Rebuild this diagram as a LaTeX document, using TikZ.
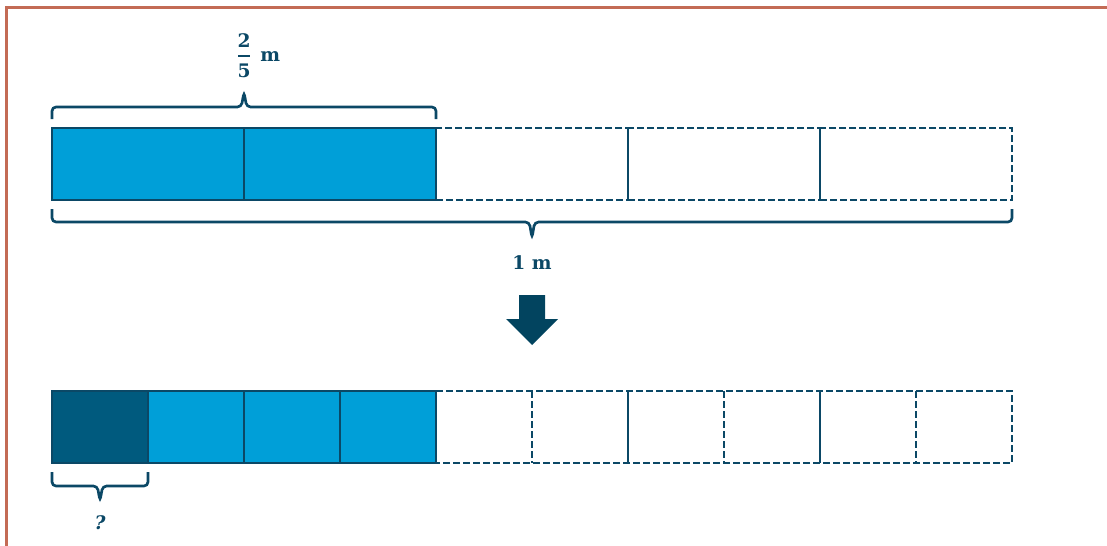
\documentclass[tikz,border=0pt]{standalone}
\usepackage{fontspec}
\setmainfont{DejaVu Serif}
\usetikzlibrary{positioning}
\definecolor{barblue}{HTML}{009FD8}
\definecolor{bardark}{HTML}{005A7E}
\definecolor{barline}{HTML}{0B4866}
\definecolor{arrowblue}{HTML}{02445F}
\definecolor{framered}{HTML}{C36B55}
\tikzset{
  cell/.style={draw=barline, line width=2pt, minimum height=54pt, inner sep=0pt, outer sep=0pt},
  fifth/.style={cell, minimum width=144pt},
  tenth/.style={cell, minimum width=72pt},
  blank/.style={dash pattern=on 5.25pt off 2.25pt},
  opencell/.style={draw=none},
  solidline/.style={draw=barline, line width=2pt},
  dashline/.style={solidline, blank},
  bracepath/.style={draw=barline, line width=2pt, rounded corners=3pt},
  lbl/.style={text=barline, font=\bfseries\fontsize{14}{17}\selectfont, inner sep=0pt}
}

\begin{document}
\begin{tikzpicture}[x=0.75pt, y=0.75pt, node distance=0pt]
        \useasboundingbox (0,0) rectangle (1107,-546);
        \draw[framered, line width=2.25pt] (6,-546) -- (6,-7.5) -- (1107,-7.5);

        % whole metre in fifths
        \node[fifth, fill=barblue] (t_1) at (148,-164) {};
        \node[fifth, fill=barblue] (t_2) [right = of t_1] {};
        \node[fifth, blank] (t_3) [right = of t_2] {};
        \node[fifth, blank] (t_4) [right = of t_3] {};
        \node[fifth, blank] (t_5) [right = of t_4] {};
        \draw[solidline] (t_3.north east) -- (t_3.south east)
        (t_4.north east) -- (t_4.south east);

        % brace over 2/5
        \coordinate (parttip) at ([yshift=27pt]t_1.north east);
        \draw[bracepath] ([yshift=6.75pt]t_1.north west) |- ([xshift=-2pt,yshift=15.75pt]t_1.north east)
        -- (parttip) -- ([xshift=2pt,yshift=15.75pt]t_1.north east) -| ([yshift=6.75pt]t_2.north east);
        \node[lbl] (den) [above = 10.5pt of parttip] {5};
        \coordinate (barmid) at ([yshift=5.5pt]den.north);
        \draw[barline, line width=1.5pt] ([xshift=-4.5pt]barmid) -- ([xshift=4.5pt]barmid);
        \node[lbl] (num) [above = 6pt of barmid] {2};
        \node[lbl] (unit) [right = 12pt of barmid] {m};

        % brace under 1 m
        \coordinate (wholetip) at ([yshift=-28.5pt]t_3.south);
        \draw[bracepath] ([yshift=-6.75pt]t_1.south west) |- ([xshift=-2pt,yshift=-16.5pt]t_3.south)
        -- (wholetip) -- ([xshift=2pt,yshift=-16.5pt]t_3.south) -| ([yshift=-6.75pt]t_5.south east);
        \node[lbl] (whole) [below = 13pt of wholetip] {1 m};

        % down arrow
        \fill[arrowblue] (519,-295) -- (545,-295) -- (545,-319) -- (558,-319) -- (532,-345)
        -- (506,-319) -- (519,-319) -- cycle;

        % whole metre in tenths
        \node[tenth, fill=bardark] (b_1) at (100,-427) {};
        \node[tenth, fill=barblue] (b_2) [right = of b_1] {};
        \node[tenth, fill=barblue] (b_3) [right = of b_2] {};
        \node[tenth, fill=barblue] (b_4) [right = of b_3] {};
        \node[tenth, opencell] (b_5) [right = of b_4] {};
        \node[tenth, opencell] (b_6) [right = of b_5] {};
        \node[tenth, opencell] (b_7) [right = of b_6] {};
        \node[tenth, opencell] (b_8) [right = of b_7] {};
        \node[tenth, opencell] (b_9) [right = of b_8] {};
        \node[tenth, opencell] (b_10) [right = of b_9] {};
        \draw[dashline] (b_4.north east) -- (b_10.north east) -- (b_10.south east) -- (b_4.south east);
        \draw[dashline] (b_5.north east) -- (b_5.south east)
        (b_7.north east) -- (b_7.south east)
        (b_9.north east) -- (b_9.south east);
        \draw[solidline] (b_6.north east) -- (b_6.south east)
        (b_8.north east) -- (b_8.south east);

        % brace under the unknown piece
        \coordinate (piecetip) at ([yshift=-28.5pt]b_1.south);
        \draw[bracepath] ([yshift=-6.75pt]b_1.south west) |- ([xshift=-2pt,yshift=-17.25pt]b_1.south)
        -- (piecetip) -- ([xshift=2pt,yshift=-17.25pt]b_1.south) -| ([yshift=-6.75pt]b_1.south east);
        \node[lbl, font=\bfseries\itshape\fontsize{14}{17}\selectfont] (piece) [below = 11pt of piecetip] {?};
      \end{tikzpicture}
\end{document}
